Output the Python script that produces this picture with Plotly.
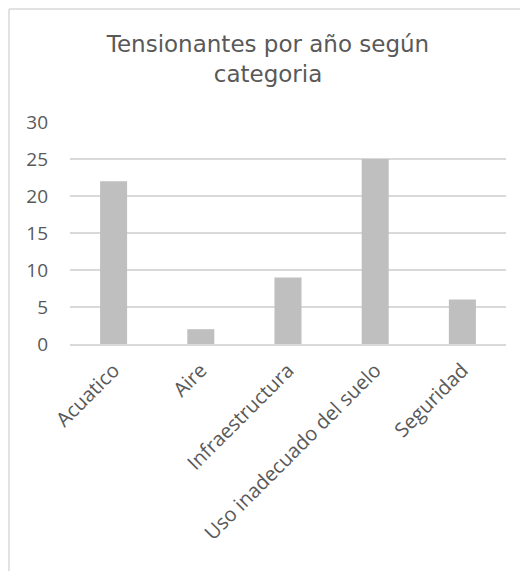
import plotly.graph_objects as go

categories = ["Acuatico", "Aire", "Infraestructura", "Uso inadecuado del suelo", "Seguridad"]
values = [22, 2, 9, 25, 6]
y_ticks = [0, 5, 10, 15, 20, 25, 30]

# page has an 8px body margin, so the figure is 8px smaller than the window
W, H = 520, 563
L, R, T, B = 62, 22, 114, 227

fig = go.Figure(go.Bar(x=categories, y=values, marker_color="#BFBFBF", marker_line_width=0))

fig.update_layout(
    width=W, height=H,
    margin=dict(l=L, r=R, t=T, b=B, autoexpand=False),
    paper_bgcolor="white", plot_bgcolor="white",
    bargap=0.69,
    showlegend=False,
    title=dict(text="Tensionantes por año según<br>categoria", x=0.5, xanchor="center",
               y=1 - 44 / H, yanchor="middle",
               font=dict(family="DejaVu Sans, Liberation Sans, Arial", size=23, color="#595959")),
    font=dict(family="Open Sans, Noto Sans", size=19, color="#595959"),
)
fig.update_yaxes(range=[0, 30], tickvals=y_ticks, showgrid=True, gridcolor="#D9D9D9", gridwidth=1.5,
                 zeroline=False, showline=False, ticks="", ticklabelstandoff=21, automargin=False,
                 fixedrange=True)
fig.update_xaxes(showline=True, linecolor="#D9D9D9", linewidth=1.5, ticks="", tickangle=-45,
                 ticklabelstandoff=5, automargin=False, showgrid=False, tickfont=dict(size=20))

# outer chart-area border (left and top edges visible)
fig.add_shape(type="line", xref="x domain", yref="y domain",
              x0=-(L - 1) / (W - L - R), x1=-(L - 1) / (W - L - R), y0=-5, y1=1 + (T - 1) / (H - T - B),
              line=dict(color="#D9D9D9", width=1.5))
fig.add_shape(type="line", xref="x domain", yref="y domain",
              x0=-(L - 1) / (W - L - R), x1=5, y0=1 + (T - 1) / (H - T - B), y1=1 + (T - 1) / (H - T - B),
              line=dict(color="#D9D9D9", width=1.5))

fig.write_html("out.html")
